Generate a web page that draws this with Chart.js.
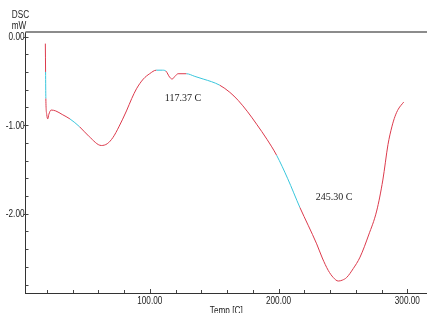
<!DOCTYPE html>
<html>
<head>
<meta charset="utf-8">
<script src="https://cdn.jsdelivr.net/npm/chart.js@4/dist/chart.umd.min.js"></script>
<style>
  body { margin: 0; background: #fff; }
  #wrap { width: 427px; height: 313px; }
</style>
</head>
<body>
<div id="wrap"><canvas id="dsc" width="427" height="313"></canvas></div>
<script>
// DSC trace (temp in C, heat flow in mW)
var temps = [18.9, 19.1, 19.3, 20.0, 20.8, 21.6, 23.4, 27, 32, 38, 45.6, 53, 62.4, 67, 71.4,
  76, 81.9, 86, 89.7, 95, 99.9, 105.1, 110, 112.5, 115.5, 117.4, 119.5, 122, 128.5, 135,
  141.5, 148, 154.4, 162.2, 168.6, 176, 183, 191, 198.5, 207, 216.6, 223, 229.6, 234,
  238.6, 242.5, 246.4, 249.5, 252.9, 258, 263.3, 270, 276.2, 281, 285, 288, 290.5, 293, 297.2];
var heatFlow = [-0.08, -0.40, -0.70, -0.88, -0.93, -0.88, -0.83, -0.84, -0.88, -0.93, -1.02, -1.13, -1.23, -1.21, -1.14,
  -1.02, -0.84, -0.70, -0.59, -0.48, -0.42, -0.38, -0.38, -0.39, -0.46, -0.48, -0.45, -0.42, -0.42, -0.45,
  -0.48, -0.51, -0.55, -0.63, -0.72, -0.85, -0.99, -1.16, -1.34, -1.60, -1.93, -2.13, -2.34, -2.50,
  -2.64, -2.72, -2.76, -2.75, -2.72, -2.62, -2.49, -2.24, -1.97, -1.62, -1.22, -1.02, -0.90, -0.82, -0.74];

// parts of the trace highlighted in cyan (analysis baselines)
var cyanRanges = [[19.1, 19.3], [38, 45.6], [105.1, 112.5], [128.5, 154.4], [198.5, 216.6]];

var xTicks = [100, 200, 300];
var xTickLabels = ['100.00', '200.00', '300.00'];
var yTicks = [0, -1, -2];
var yTickLabels = ['0.00', '-1.00', '-2.00'];

var peakLabels = [
  {x: 111.7, y: -0.70, text: '117.37 C'},
  {x: 229.0, y: -1.82, text: '245.30 C'}
];

var points = temps.map(function (t, i) { return {x: t, y: heatFlow[i]}; });

function inCyan(a, b) {
  for (var i = 0; i < cyanRanges.length; i++) {
    if (a >= cyanRanges[i][0] - 0.01 && b <= cyanRanges[i][1] + 0.01) return true;
  }
  return false;
}

// the instrument software uses a narrow sans face, squeeze Liberation Sans to match
function narrowText(c, text, x, y, align) {
  var sq = 0.82;
  c.save();
  c.textAlign = align;
  c.translate(x, y);
  c.scale(sq, 1);
  c.fillText(text, 0, 0);
  c.restore();
}

var decor = {
  id: 'decor',
  afterDraw: function (chart) {
    var c = chart.ctx, a = chart.chartArea;
    var xs = chart.scales.x, ys = chart.scales.y;
    c.save();
    // top frame line
    c.strokeStyle = '#8c8c8c';
    c.lineWidth = 2;
    c.beginPath(); c.moveTo(a.left, a.top); c.lineTo(a.right, a.top); c.stroke();

    // small inside tick marks
    c.strokeStyle = '#444';
    c.lineWidth = 1;
    c.beginPath();
    for (var t = 20; t <= 300; t += 20) {
      var px = Math.round(xs.getPixelForValue(t)) + 0.5;
      var len = (t % 100 === 0) ? 4 : 3;
      c.moveTo(px, a.bottom); c.lineTo(px, a.bottom - len);
    }
    for (var k = 0; k <= 14; k++) {
      var py = Math.round(ys.getPixelForValue(-k * 0.2)) + 0.5;
      var major = (k % 5 === 0);
      c.moveTo(a.left - (major ? 2 : 0), py); c.lineTo(a.left + 3, py);
    }
    c.stroke();

    // tick labels
    c.fillStyle = '#222';
    c.font = '10px "Liberation Sans", Arial, sans-serif';
    c.textBaseline = 'middle';
    xTicks.forEach(function (v, i) {
      narrowText(c, xTickLabels[i], xs.getPixelForValue(v), a.bottom + 8, 'center');
    });
    yTicks.forEach(function (v, i) {
      narrowText(c, yTickLabels[i], a.left - 1, ys.getPixelForValue(v) + 1, 'right');
    });

    // axis names
    narrowText(c, 'DSC', 20.5, 15, 'center');
    narrowText(c, 'mW', 19, 26, 'center');
    narrowText(c, 'Temp [C]', (a.left + a.right) / 2, 311, 'center');

    // peak temperature labels
    c.font = '10px "Liberation Serif", serif';
    c.textAlign = 'left';
    peakLabels.forEach(function (p) {
      c.fillText(p.text, xs.getPixelForValue(p.x), ys.getPixelForValue(p.y));
    });
    c.restore();
  }
};

new Chart(document.getElementById('dsc'), {
  type: 'line',
  data: {
    datasets: [{
      data: points,
      borderColor: '#dc3a4c',
      borderWidth: 1,
      pointRadius: 0,
      fill: false,
      cubicInterpolationMode: 'monotone',
      segment: {
        borderColor: function (ctx) {
          return inCyan(ctx.p0.parsed.x, ctx.p1.parsed.x) ? '#38c6dc' : undefined;
        }
      }
    }]
  },
  options: {
    responsive: false,
    animation: false,
    layout: {padding: {top: 32, right: 0, left: 0, bottom: 0}},
    plugins: {legend: {display: false}, tooltip: {enabled: false}},
    scales: {
      x: {
        type: 'linear',
        min: 3.5,
        max: 315.3,
        afterBuildTicks: function (s) { s.ticks = xTicks.map(function (v) { return {value: v}; }); },
        afterFit: function (s) { s.height = 20; },
        grid: {display: false},
        border: {display: true, color: '#333', width: 1},
        ticks: {display: false}
      },
      y: {
        min: -2.895,
        max: 0.051,
        afterBuildTicks: function (s) { s.ticks = yTicks.map(function (v) { return {value: v}; }); },
        afterFit: function (s) { s.width = 25.5; },
        grid: {display: false},
        border: {display: true, color: '#333', width: 1},
        ticks: {display: false}
      }
    }
  },
  plugins: [decor]
});
</script>
</body>
</html>
